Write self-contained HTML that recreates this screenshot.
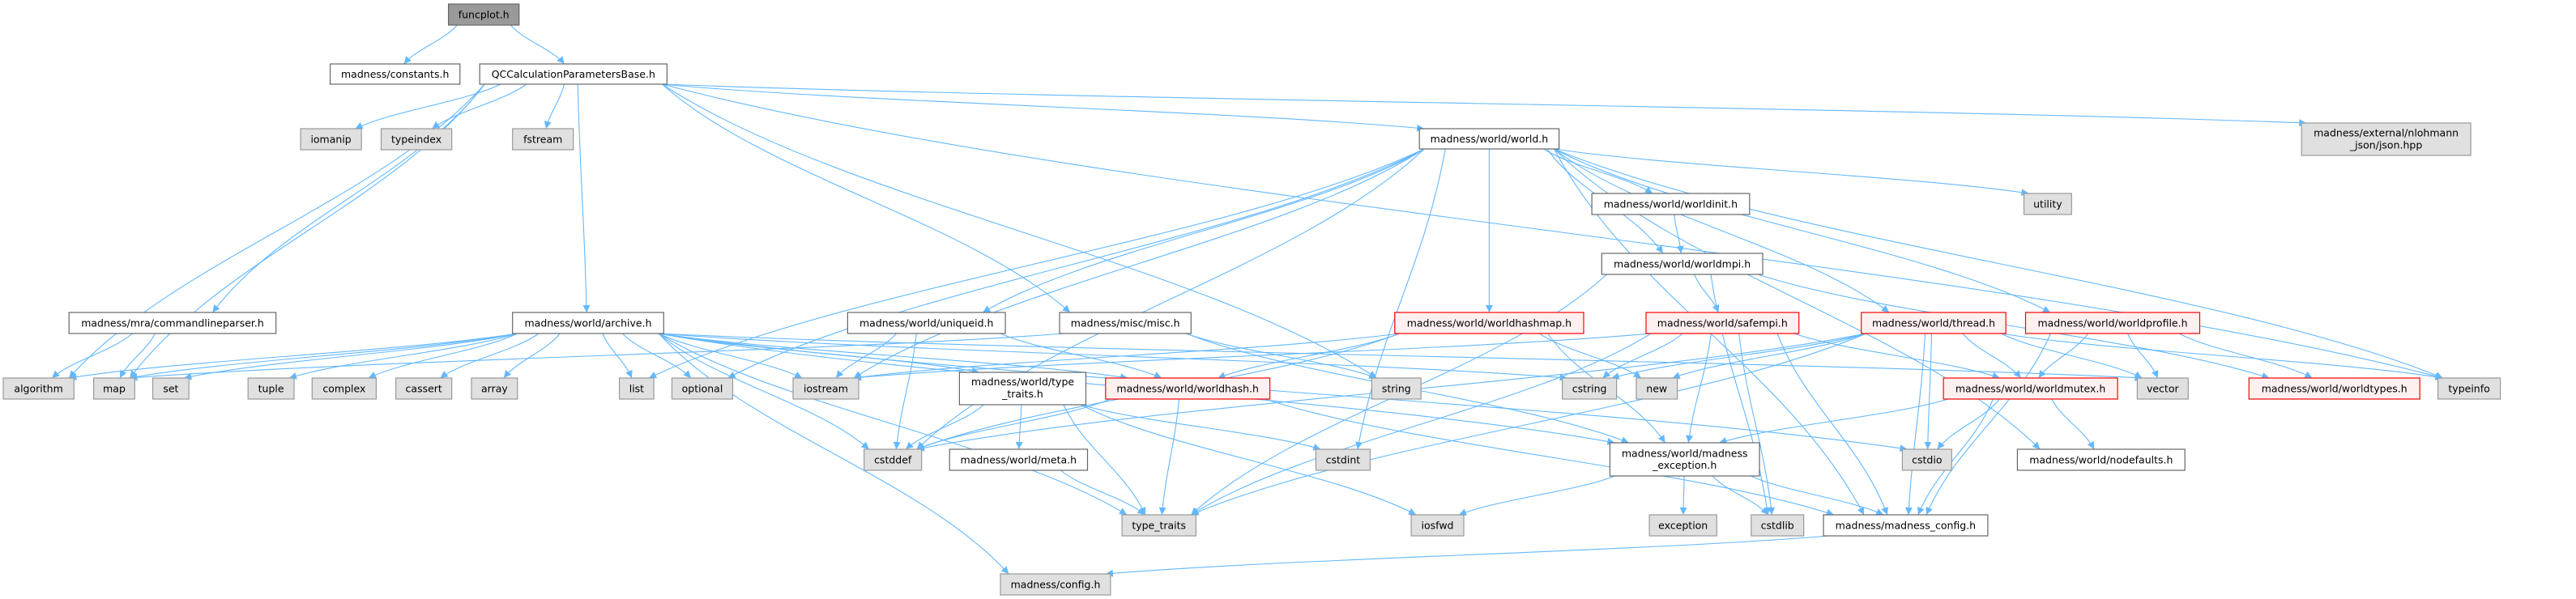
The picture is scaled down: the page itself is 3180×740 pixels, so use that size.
<!DOCTYPE html>
<html><head><meta charset="utf-8">
<style>
html,body{margin:0;padding:0;background:#fff;width:3180px;height:740px;overflow:hidden}
svg text{font-family:"DejaVu Sans","Liberation Sans",sans-serif;font-size:12.5px;fill:#000;text-anchor:middle}
.w{fill:#fff;stroke:#666;stroke-width:1.2}
.g{fill:#e0e0e0;stroke:#999;stroke-width:1.2}
.r{fill:#fff0f0;stroke:#f00;stroke-width:1.2}
.d{fill:#999;stroke:#666;stroke-width:1.2}
</style></head><body>
<svg id="s" width="3180" height="740" viewBox="0 0 3180 740" xmlns="http://www.w3.org/2000/svg">
<defs><marker id="a" viewBox="0 0 10 10" refX="10" refY="5" markerWidth="11" markerHeight="9" markerUnits="userSpaceOnUse" orient="auto"><path d="M0,0L10,5L0,10z" fill="#63b8ff"/></marker></defs>
<g id="edges" fill="none" stroke="#63b8ff" stroke-width="1.1"></g>
<g id="nodes">
<rect class="d" x="553.6" y="5" width="87.2" height="26"/><text x="597.2" y="22.5">funcplot.h</text>
<rect class="w" x="407.6" y="79" width="160.2" height="25"/><text x="487.7" y="96">madness/constants.h</text>
<rect class="w" x="592.2" y="79" width="231.2" height="25"/><text x="707.8" y="96">QCCalculationParametersBase.h</text>
<rect class="g" x="371.1" y="159" width="75.1" height="26"/><text x="408.6" y="176.5">iomanip</text>
<rect class="g" x="470.5" y="159" width="87.2" height="26"/><text x="514.1" y="176.5">typeindex</text>
<rect class="g" x="632.7" y="159" width="75.1" height="26"/><text x="670.2" y="176.5">fstream</text>
<rect class="w" x="1752.2" y="159" width="172.4" height="25"/><text x="1838.4" y="176">madness/world/world.h</text>
<rect class="g" x="2841.2" y="152" width="208.9" height="40"/><text x="2945.6" y="168.5">madness/external/nlohmann</text><text x="2945.6" y="183.5">_json/json.hpp</text>
<rect class="g" x="2498.5" y="239" width="58.8" height="26"/><text x="2527.9" y="256.5">utility</text>
<rect class="w" x="1965.1" y="239" width="194.7" height="26"/><text x="2062.4" y="256.5">madness/world/worldinit.h</text>
<rect class="w" x="1977.3" y="313" width="198.7" height="26"/><text x="2076.6" y="330.5">madness/world/worldmpi.h</text>
<rect class="w" x="85.2" y="386" width="255.5" height="26"/><text x="213" y="403.5">madness/mra/commandlineparser.h</text>
<rect class="w" x="632.7" y="386" width="186.6" height="26"/><text x="726" y="403.5">madness/world/archive.h</text>
<rect class="w" x="1046.4" y="386" width="194.7" height="26"/><text x="1143.7" y="403.5">madness/world/uniqueid.h</text>
<rect class="w" x="1308" y="386" width="162.3" height="26"/><text x="1389.2" y="403.5">madness/misc/misc.h</text>
<rect class="r" x="1721.8" y="386" width="233.2" height="26"/><text x="1838.4" y="403.5">madness/world/worldhashmap.h</text>
<rect class="r" x="2032" y="386" width="188.7" height="26"/><text x="2126.3" y="403.5">madness/world/safempi.h</text>
<rect class="r" x="2297.7" y="386" width="178.5" height="26"/><text x="2387" y="403.5">madness/world/thread.h</text>
<rect class="r" x="2500.5" y="386" width="215" height="26"/><text x="2608" y="403.5">madness/world/worldprofile.h</text>
<rect class="g" x="4" y="467" width="87.3" height="26"/><text x="47.6" y="484.5">algorithm</text>
<rect class="g" x="115.6" y="467" width="50.7" height="26"/><text x="141" y="484.5">map</text>
<rect class="g" x="188.6" y="467" width="44.6" height="26"/><text x="210.9" y="484.5">set</text>
<rect class="g" x="306.2" y="467" width="56.8" height="26"/><text x="334.6" y="484.5">tuple</text>
<rect class="g" x="385.3" y="467" width="79.1" height="26"/><text x="424.9" y="484.5">complex</text>
<rect class="g" x="488.7" y="467" width="69" height="26"/><text x="523.2" y="484.5">cassert</text>
<rect class="g" x="582" y="467" width="56.8" height="26"/><text x="610.4" y="484.5">array</text>
<rect class="g" x="764.6" y="467" width="42.5" height="26"/><text x="785.9" y="484.5">list</text>
<rect class="g" x="829.5" y="467" width="75" height="26"/><text x="867" y="484.5">optional</text>
<rect class="g" x="979" y="467" width="81" height="26"/><text x="1019.5" y="484.5">iostream</text>
<rect class="w" x="1184.4" y="460" width="156.1" height="40"/><text x="1262.5" y="476">madness/world/type</text><text x="1262.5" y="491">_traits.h</text>
<rect class="r" x="1364.8" y="467" width="202.8" height="26"/><text x="1466.2" y="484.5">madness/world/worldhash.h</text>
<rect class="g" x="1693.4" y="467" width="60.8" height="26"/><text x="1723.8" y="484.5">string</text>
<rect class="g" x="1928.6" y="467" width="67" height="26"/><text x="1962.1" y="484.5">cstring</text>
<rect class="g" x="2019.9" y="467" width="50.7" height="26"/><text x="2045.2" y="484.5">new</text>
<rect class="r" x="2399.1" y="467" width="215" height="26"/><text x="2506.6" y="484.5">madness/world/worldmutex.h</text>
<rect class="g" x="2638.4" y="467" width="62.9" height="26"/><text x="2669.8" y="484.5">vector</text>
<rect class="r" x="2776.3" y="467" width="210.9" height="26"/><text x="2881.7" y="484.5">madness/world/worldtypes.h</text>
<rect class="g" x="3009.6" y="467" width="77" height="26"/><text x="3048.1" y="484.5">typeinfo</text>
<rect class="g" x="1066.7" y="555" width="71" height="26"/><text x="1102.2" y="572.5">cstddef</text>
<rect class="w" x="1172.2" y="555" width="170.3" height="26"/><text x="1257.3" y="572.5">madness/world/meta.h</text>
<rect class="g" x="1624.4" y="555" width="67" height="26"/><text x="1657.9" y="572.5">cstdint</text>
<rect class="w" x="1987.4" y="547" width="184.6" height="41"/><text x="2079.7" y="564.5">madness/world/madness</text><text x="2079.7" y="579">_exception.h</text>
<rect class="g" x="2348.4" y="555" width="60.9" height="26"/><text x="2378.8" y="572.5">cstdio</text>
<rect class="w" x="2490.4" y="555" width="206.8" height="26"/><text x="2593.8" y="572.5">madness/world/nodefaults.h</text>
<rect class="g" x="1385.1" y="636" width="91.3" height="26"/><text x="1430.7" y="653.5">type_traits</text>
<rect class="g" x="1742.1" y="636" width="64.9" height="26"/><text x="1774.5" y="653.5">iosfwd</text>
<rect class="g" x="2036.1" y="636" width="83.2" height="26"/><text x="2077.7" y="653.5">exception</text>
<rect class="g" x="2161.8" y="636" width="64.9" height="26"/><text x="2194.2" y="653.5">cstdlib</text>
<rect class="w" x="2251" y="636" width="202.9" height="26"/><text x="2352.4" y="653.5">madness/madness_config.h</text>
<rect class="g" x="1235" y="709" width="135.9" height="26"/><text x="1303" y="726.5">madness/config.h</text>
</g>
</svg>
<script>
var N={funcplot:[553.6,640.8,5,31],constants:[407.6,567.8,79,104],qc:[592.2,823.4,79,104],iomanip:[371.1,446.2,159,185],typeindex:[470.5,557.7,159,185],fstream:[632.7,707.8,159,185],world:[1752.2,1924.6,159,184],json:[2841.2,3050.1,152,192],utility:[2498.5,2557.3,239,265],worldinit:[1965.1,2159.8,239,265],worldmpi:[1977.3,2176,313,339],cmdline:[85.2,340.7,386,412],archive:[632.7,819.3,386,412],uniqueid:[1046.4,1241.1,386,412],misc:[1308,1470.3,386,412],hashmap:[1721.8,1955,386,412],safempi:[2032,2220.7,386,412],thread:[2297.7,2476.2,386,412],profile:[2500.5,2715.5,386,412],algorithm:[4,91.3,467,493],map:[115.6,166.3,467,493],set:[188.6,233.2,467,493],tuple:[306.2,363,467,493],complex:[385.3,464.4,467,493],cassert:[488.7,557.7,467,493],array:[582,638.8,467,493],list:[764.6,807.1,467,493],optional:[829.5,904.5,467,493],iostream:[979,1060,467,493],tth:[1184.4,1340.5,460,500],whash:[1364.8,1567.6,467,493],string:[1693.4,1754.2,467,493],cstring:[1928.6,1995.6,467,493],new:[2019.9,2070.6,467,493],mutex:[2399.1,2614.1,467,493],vector:[2638.4,2701.3,467,493],wtypes:[2776.3,2987.2,467,493],typeinfo:[3009.6,3086.6,467,493],cstddef:[1066.7,1137.7,555,581],meta:[1172.2,1342.5,555,581],cstdint:[1624.4,1691.4,555,581],madexc:[1987.4,2172,547,588],cstdio:[2348.4,2409.3,555,581],nodef:[2490.4,2697.2,555,581],tt:[1385.1,1476.4,636,662],iosfwd:[1742.1,1807,636,662],exception:[2036.1,2119.3,636,662],cstdlib:[2161.8,2226.7,636,662],madcfg:[2251,2453.9,636,662],config:[1235,1370.9,709,735]};
var E={funcplot:"constants qc",qc:"algorithm map iomanip typeindex fstream archive cmdline misc world json typeinfo string",
world:"list optional iostream cstddef uniqueid hashmap cstdint worldinit worldmpi utility thread profile nodef madcfg typeinfo",
archive:"algorithm map set tuple complex cassert array list optional iostream cstddef tt config tth whash madexc cstring vector cstdio",
cmdline:"algorithm map",uniqueid:"iostream cstddef whash",misc:"string map madexc",
hashmap:"whash new madexc iostream cstddef",worldinit:"worldmpi",worldmpi:"safempi tt cstdlib wtypes",
safempi:"cstring iostream mutex madexc madcfg cstdlib tt",thread:"cstdio vector tt cstring new cstddef mutex typeinfo madcfg",
profile:"mutex vector wtypes madcfg",mutex:"madexc cstdio madcfg nodef",tth:"cstddef meta tt cstdint iosfwd",
whash:"cstddef tt madcfg",meta:"tt",madexc:"iosfwd exception cstdlib madcfg",madcfg:"config"};
var g=document.getElementById("edges"),h="";
for(var s in E){var S=N[s];E[s].split(" ").forEach(function(t){var T=N[t];if(!T)return;
var scx=(S[0]+S[1])/2,tcx=(T[0]+T[1])/2;
var sx=Math.max(S[0]+6,Math.min(S[1]-6,scx+(tcx-scx)*0.3)),sy=S[3];
var tx=Math.max(T[0]+6,Math.min(T[1]-6,tcx+(scx-tcx)*0.1)),ty=T[2];
var dy=ty-sy,dx=tx-sx;
h+='<path d="M'+sx+','+sy+' C'+(sx+dx*0.25)+','+(sy+dy*0.4)+' '+(tx-dx*0.25)+','+(ty-dy*0.4)+' '+tx+','+ty+'" marker-end="url(#a)"/>';});}
g.innerHTML=h;
</script>
</body></html>
